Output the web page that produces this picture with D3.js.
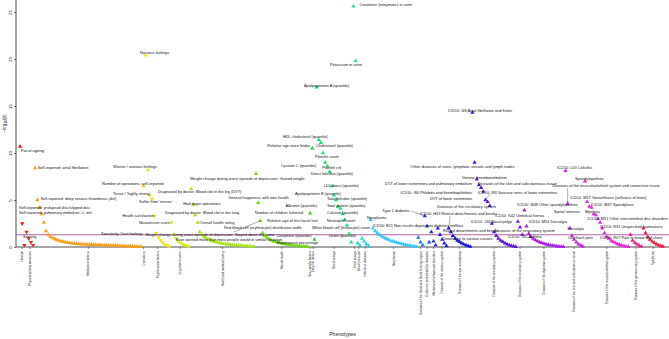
<!DOCTYPE html>
<html>
<head>
<meta charset="utf-8">
<script src="https://cdn.jsdelivr.net/npm/d3@7"></script>
<style>
  body { margin: 0; background: #fff; }
  svg { display: block; font-family: "Liberation Sans", Arial, sans-serif; }
</style>
</head>
<body>
<div id="chart"></div>
<script>
// phenotype categories, in plotting order
var categories = [
  "Lifestyle", "Physical activity measures", "Medical conditions", "Operations",
  "Psychosocial factors", "Cognitive function", "Health and medical history", "Mental health",
  "Sex-specific factors", "Early life factors", "Blood assays", "Urine assays",
  "Blood pressure", "Infectious diseases", "Neoplasms",
  "Diseases of the blood and blood-forming organs", "Endocrine and metabolic diseases",
  "Mental and behavioural disorders", "Diseases of the nervous system",
  "Diseases of the eye and adnexa", "Diseases of the circulatory system",
  "Diseases of the respiratory system", "Diseases of the digestive system",
  "Diseases of the skin and subcutaneous tissue", "Diseases of the musculoskeletal system",
  "Diseases of the genitourinary system", "Symptoms"
];

// -log10(p) per category, sorted
var lifestyle = [10.7, 2.5, 0.2];
var physical = [1.6, 0.9, 0.5, 0.2];
var medical = [8.4, 5.0, 4.2, 3.5, 2.6, 1.7, 1.3, 1.1, 0.95, 0.85, 0.75, 0.68, 0.62, 0.56, 0.5,
  0.46, 0.42, 0.39, 0.36, 0.34, 0.32, 0.3, 0.29, 0.28, 0.27, 0.26, 0.25, 0.24, 0.23, 0.22,
  0.21, 0.2, 0.19, 0.18, 0.17, 0.16, 0.15, 0.14, 0.13, 0.12, 0.11, 0.1, 0.09, 0.08, 0.07,
  0.06, 0.05, 0.04, 0.03, 0.02];
var operations = [6.5];
var psychosocial = [20.4, 8.2, 5.5, 5.1, 3.3, 1.5, 1.0, 0.7, 0.45, 0.25, 0.15, 0.05];
var cognitive = [2.6, 1.3, 0.9, 0.6, 0.45, 0.3, 0.2, 0.12, 0.05];
var healthHistory = [6.2, 4.5, 3.4, 2.6, 1.6, 1.3, 1.1, 0.95, 0.8, 0.7, 0.62, 0.55, 0.5, 0.45, 0.4,
  0.36, 0.33, 0.3, 0.27, 0.24, 0.22, 0.2, 0.18, 0.16, 0.14, 0.12, 0.1, 0.08, 0.06, 0.04];
var mentalHealth = [7.8, 4.7, 2.8, 1.5, 1.2, 1.0, 0.85, 0.72, 0.62, 0.55, 0.48, 0.42, 0.37, 0.32,
  0.28, 0.25, 0.22, 0.19, 0.16, 0.13, 0.11, 0.09, 0.07, 0.05, 0.03];
var sexSpecific = [3.6];
var earlyLife = [10.5, 0.8];
var bloodAssays = [17.0, 11.4, 11.1, 10.0, 9.0, 8.6, 8.0, 6.5, 5.5, 5.0, 4.3, 4.1, 3.5, 2.9, 2.3, 1.4, 0.5];
var urineAssays = [25.6, 19.8];
var bloodPressure = [0.4, 0.15];
var infectious = [0.9, 0.6, 0.3, 0.1];
var neoplasms = [2.9, 2.0, 1.7, 1.5, 1.3, 1.15, 1.0, 0.9, 0.8, 0.7, 0.62, 0.55, 0.48, 0.42, 0.36,
  0.3, 0.25, 0.2, 0.15, 0.1, 0.07, 0.04];
var bloodDiseases = [1.0, 0.5, 0.2];
var endocrine = [3.3, 2.2, 0.5];
var mentalDisorders = [1.6, 0.6, 0.2];
var nervous = [2.0, 1.3, 0.8, 0.4, 0.1];
var eye = [2.0, 1.6, 1.2, 0.9, 0.7, 0.55, 0.4, 0.28, 0.18, 0.1, 0.04];
var circulatory = [14.3, 9.0, 7.2, 6.6, 6.3, 5.9, 5.0, 4.8, 4.4, 2.5, 1.6, 1.2, 0.9, 0.7, 0.55,
  0.4, 0.3, 0.2, 0.12, 0.07, 0.03];
var respiratory = [2.7, 2.1, 1.3];
var digestive = [3.9, 2.2, 1.4, 1.1, 0.9, 0.75, 0.62, 0.52, 0.44, 0.37, 0.3, 0.25, 0.2, 0.16,
  0.12, 0.09, 0.06, 0.04, 0.02];
var skin = [8.1, 4.6, 2.0, 1.2, 0.8, 0.5, 0.3, 0.15, 0.05];
var musculo = [7.0, 4.8, 4.3, 4.2, 3.5, 3.4, 3.0, 2.6, 2.0, 1.5, 1.1, 0.9, 0.7, 0.55, 0.42,
  0.32, 0.24, 0.16, 0.1, 0.06, 0.03];
var genito = [1.3, 0.7, 0.45, 0.3, 0.15, 0.05];
var symptoms = [2.0, 1.5, 1.1, 0.8, 0.6, 0.45, 0.3, 0.2, 0.1, 0.05];

var series = [lifestyle, physical, medical, operations, psychosocial, cognitive, healthHistory,
  mentalHealth, sexSpecific, earlyLife, bloodAssays, urineAssays, bloodPressure, infectious,
  neoplasms, bloodDiseases, endocrine, mentalDisorders, nervous, eye, circulatory, respiratory,
  digestive, skin, musculo, genito, symptoms];

// direction of effect: categories drawn with downward triangles, and exceptions
var downCategories = [0, 1, 4, 5];
var flipped = [[0, 0]];

// labelled phenotypes: [category, rank, label]
var annotations = [
  [0, 0, "Facial ageing"], [1, 0, "Snoring"],
  [2, 0, "Self-reported: atrial fibrillation"],
  [2, 1, "Self-reported: deep venous thrombosis (dvt)"],
  [2, 2, "Self-reported: prolapsed disc/slipped disc"],
  [2, 3, "Self-reported: pulmonary embolism +/- dvt"],
  [3, 0, "Number of operations, self-reported"],
  [4, 0, "Nervous feelings"], [4, 1, "Worrier / anxious feelings"],
  [4, 2, "Tense / 'highly strung'"], [4, 3, "Suffer from 'nerves'"],
  [4, 4, "Health satisfaction"], [4, 5, "Sensitivity / hurt feelings"],
  [5, 0, "Neuroticism score"],
  [6, 0, "Diagnosed by doctor: Blood clot in the leg (DVT)"],
  [6, 1, "Had major operations"],
  [6, 2, "Diagnosed by doctor: Blood clot in the lung"],
  [6, 3, "Overall health rating"],
  [6, 4, "Weight change during worst episode of depression: Stayed about the same"],
  [6, 5, "Ever worried more than most people would in similar situation"],
  [7, 0, "Weight change during worst episode of depression: Gained weight"],
  [7, 1, "General happiness with own health"],
  [7, 2, "Relative age of first facial hair"],
  [7, 2, "Red blood cell (erythrocyte) distribution width"],
  [8, 0, "Number of children fathered"],
  [9, 0, "Relative age voice broke"], [9, 1, "Creatinine (quantile)"],
  [10, 0, "Apolipoprotein A (quantile)"], [10, 1, "HDL cholesterol (quantile)"],
  [10, 2, "Cholesterol (quantile)"], [10, 3, "Platelet count"],
  [10, 4, "Cystatin C (quantile)"], [10, 5, "Platelet crit"],
  [10, 6, "Direct bilirubin (quantile)"], [10, 7, "LDL direct (quantile)"],
  [10, 8, "Apolipoprotein B (quantile)"], [10, 9, "Total bilirubin (quantile)"],
  [10, 10, "Albumin (quantile)"], [10, 11, "Total protein (quantile)"],
  [10, 12, "Calcium (quantile)"], [10, 13, "Neutrophil count"],
  [10, 14, "White blood cell (leukocyte) count"], [10, 15, "Urate (quantile)"],
  [10, 16, "Haematocrit percentage"],
  [11, 0, "Creatinine (enzymatic) in urine"], [11, 1, "Potassium in urine"],
  [14, 0, "Neoplasms"],
  [16, 0, "Type 2 diabetes"],
  [16, 1, "ICD10: E11 Non-insulin-dependent diabetes mellitus"],
  [19, 0, "ICD10: H33 Retinal detachments and breaks"],
  [19, 1, "Retinal detachments and breaks"],
  [19, 3, "Death due to various causes"],
  [20, 0, "ICD10: I48 Atrial fibrillation and flutter"],
  [20, 1, "Other diseases of veins, lymphatic vessels and lymph nodes"],
  [20, 2, "Venous thromboembolism"],
  [20, 3, "DVT of lower extremities and pulmonary embolism"],
  [20, 3, "Diseases of the skin and subcutaneous tissue"],
  [20, 4, "ICD10: I80 Phlebitis and thrombophlebitis"],
  [20, 5, "DVT of lower extremities"],
  [20, 6, "ICD10: I83 Varicose veins of lower extremities"],
  [20, 7, "Diseases of the circulatory system"],
  [21, 0, "ICD10: J33 Nasal polyp"], [21, 1, "Diseases of the respiratory system"],
  [21, 2, "ICD10: J45 Asthma"],
  [22, 0, "ICD10: K42 Umbilical hernia"],
  [23, 0, "ICD10: L03 Cellulitis"],
  [23, 1, "Diseases of the musculoskeletal system and connective tissue"],
  [24, 0, "Spondylopathies"], [24, 1, "ICD10: M17 Gonarthrosis [arthrosis of knee]"],
  [24, 2, "ICD10: M48 Other spondylopathies"], [24, 3, "ICD10: M47 Spondylosis"],
  [24, 4, "Spinal stenosis"], [24, 5, "Myelosis"],
  [24, 6, "ICD10: M51 Other intervertebral disc disorders"],
  [24, 7, "ICD10: M54 Dorsalgia"], [24, 8, "Dorsalgia"], [24, 10, "Low back pain"],
  [26, 0, "ICD10: R31 Unspecified haematuria"],
  [26, 1, "ICD10: R07 Pain in throat and chest"]
];

// label placement (px from the point) and anchor, same order as annotations
var placement = [
  [1, 4.5, "s"], [-3.5, 5, "s"],
  [2.5, 0, "s"], [3, -1, "s"], [-20.5, 0, "s"], [-22.7, -1, "s"],
  [-41.4, -2, "s"],
  [-5.5, -3, "s"], [-34.7, -3, "s"], [-36.9, -2, "s"], [-13, 3, "s"], [-32, 0, "s"], [-13.4, 1, "e"],
  [-1.5, 0, "e"],
  [-33, 3, "s"], [-10, -1.5, "s"], [-30.3, -2, "s"], [2, 0, "s"], [-54.5, 3, "s"], [-25.8, 5, "s"],
  [-66, 5, "s"], [-30, -5, "s"], [6.6, 0, "s"], [-36.4, 7.3, "s"],
  [-7, -1, "e"],
  [-2.3, -2.3, "e"], [-3, -3.5, "e"],
  [-12.7, -2, "s"], [-35.8, -3, "s"], [-5, 3, "s"], [-8, 4, "s"], [-9.3, 3, "e"], [-5.5, 1, "s"],
  [-18.7, 2, "s"], [-7.8, 0, "s"], [-39, -2, "s"], [-9, -1, "s"], [-21.3, -0.5, "e"],
  [-13.5, -2.5, "s"], [-15.6, -1, "s"], [-17.8, 1, "s"], [-35, 2.5, "s"], [-20, 2, "s"],
  [-33, 0, "e"],
  [6, -1.5, "s"], [-25.6, 4, "s"],
  [-3.7, -2, "s"],
  [-15, -5, "e"], [-54, -1, "s"],
  [-28.6, -15, "s"], [-8, -1, "s"], [-12, 0, "s"],
  [-24.4, -1.5, "s"], [-64, 4, "s"], [-15, -2, "s"], [-7, -1, "e"], [-1, -1, "s"],
  [-9, 5, "e"], [-11, 7.5, "e"], [-7.4, -7, "s"], [-50.6, 5, "s"],
  [-6, 0, "e"], [-25, 3, "s"], [-14, 2, "s"],
  [-29.4, 5, "s"],
  [-8.5, -3, "s"], [-15.5, -17.8, "s"],
  [-10, -3, "s"], [-17, -4, "s"], [-11.3, -1.5, "e"], [-0.5, -2.5, "s"], [-13.7, -2, "e"],
  [-10.8, -3, "s"], [70, 0, "e"], [-33.2, -0.6, "e"], [-18.3, 0, "e"], [-13.6, 1.3, "e"],
  [-43.4, -2, "s"], [-45.5, 5, "s"]
];

// leader lines: annotation number -> end offset from point
var leaders = { 23: [-27, 11.5], 47: [-14, -5], 49: [1.5, -12], 59: [4.6, -6], 66: [0, -16] };

var palette = ["#e3191c", "#e8301c", "#f5a01a", "#f2c414", "#e9e61a", "#d2ec1c", "#a8e61c",
  "#76d81c", "#4ccc1e", "#2fcc40", "#1fe07a", "#22dca8", "#22d6c2", "#22d2d6", "#36c8f0",
  "#1c78e8", "#1c4ce8", "#1c32e2", "#1c1ce0", "#1a14dc", "#5a18dc", "#8a14e0", "#a81ee8",
  "#cc22e2", "#ea2ad0", "#f0208c", "#f01c48"];

var width = 669, height = 339;
var svg = d3.select("#chart").append("svg")
  .attr("width", width)
  .attr("height", height);

// flatten into points with a running position
var points = [];
var starts = [];
var pos = 0;
series.forEach(function (vals, g) {
  starts.push(pos);
  vals.forEach(function (v, i) {
    var down = downCategories.indexOf(g) >= 0;
    flipped.forEach(function (f) { if (f[0] === g && f[1] === i) down = !down; });
    points.push({ g: g, i: i, pos: pos + i, v: v, down: down });
  });
  pos += vals.length;
});

var x = d3.scaleLinear().domain([0, pos]).range([19, 664]);
var y = d3.scaleLinear().domain([0, 25]).range([247, 12]);
var color = d3.scaleOrdinal().domain(d3.range(categories.length)).range(palette);

function px(g, i) { return x(starts[g] + i + 0.5); }

// axes
svg.append("line").attr("x1", 16).attr("x2", 16).attr("y1", 0).attr("y2", y(0))
  .attr("stroke", "#222").attr("stroke-width", 0.8);
svg.append("line").attr("x1", 16).attr("x2", width).attr("y1", y(0)).attr("y2", y(0))
  .attr("stroke", "#222").attr("stroke-width", 0.8);

var yAxis = svg.append("g")
  .attr("transform", "translate(16,0)")
  .call(d3.axisLeft(y).tickValues([0, 5, 10, 15, 20, 25]).tickSize(2));
yAxis.select(".domain").remove();
yAxis.selectAll("line").attr("stroke", "#222").attr("stroke-width", 0.6);
yAxis.selectAll("text")
  .attr("x", 0).attr("y", -4).attr("dy", 0)
  .attr("transform", "rotate(-90)")
  .style("text-anchor", "middle")
  .style("font-size", "4.4px")
  .style("font-family", "Liberation Sans, Arial, sans-serif")
  .attr("fill", "#222");

// category ticks
var ticks = svg.append("g").selectAll("g")
  .data(categories)
  .enter().append("g")
  .attr("transform", function (d, g) {
    return "translate(" + x(starts[g] + series[g].length / 2) + "," + y(0) + ")";
  });
ticks.append("line").attr("y1", 0).attr("y2", 2).attr("stroke", "#222").attr("stroke-width", 0.5);
ticks.append("text")
  .attr("transform", "translate(0,4)rotate(-90)")
  .attr("dy", "0.35em")
  .style("text-anchor", "end")
  .style("font-size", "3px")
  .attr("fill", "#333")
  .text(function (d) { return d; });

// significance threshold
svg.append("line")
  .attr("x1", 16).attr("x2", width)
  .attr("y1", y(-Math.log10(0.05))).attr("y2", y(-Math.log10(0.05)))
  .attr("stroke", "#9c3b8e").attr("stroke-width", 0.8);

// points
var tri = d3.symbol().type(d3.symbolTriangle).size(8);
svg.append("g").selectAll("path")
  .data(points)
  .enter().append("path")
  .attr("d", tri)
  .attr("transform", function (d) {
    return "translate(" + x(d.pos + 0.5) + "," + y(d.v) + ")" + (d.down ? "rotate(180)" : "");
  })
  .attr("fill", function (d) { return color(d.g); });

// leader lines
Object.keys(leaders).forEach(function (k) {
  var a = annotations[k];
  var x0 = px(a[0], a[1]), y0 = y(series[a[0]][a[1]]);
  svg.append("line")
    .attr("x1", x0).attr("y1", y0)
    .attr("x2", x0 + leaders[k][0]).attr("y2", y0 + leaders[k][1])
    .attr("stroke", "#333").attr("stroke-width", 0.4);
});

// labels
svg.append("g").selectAll("text")
  .data(annotations)
  .enter().append("text")
  .attr("x", function (d, k) { return px(d[0], d[1]) + placement[k][0]; })
  .attr("y", function (d, k) { return y(series[d[0]][d[1]]) + placement[k][1]; })
  .attr("dy", "0.35em")
  .style("text-anchor", function (d, k) { return placement[k][2] === "e" ? "end" : "start"; })
  .style("font-size", "3.9px")
  .attr("fill", "#111")
  .text(function (d) { return d[2]; });

// axis titles
var yt = svg.append("text")
  .attr("transform", "translate(6," + (y(0) / 2) + ")rotate(-90)")
  .style("text-anchor", "middle")
  .style("font-size", "4.6px")
  .attr("fill", "#222");
yt.append("tspan").text("\u2212log");
yt.append("tspan").attr("dy", "0.35em").style("font-size", "3.4px").text("10");
yt.append("tspan").attr("dy", "-0.35em").text("(p)");

svg.append("text")
  .attr("x", (16 + width) / 2).attr("y", 336)
  .style("text-anchor", "middle")
  .style("font-size", "5px")
  .attr("fill", "#222")
  .text("Phenotypes");
</script>
</body>
</html>
